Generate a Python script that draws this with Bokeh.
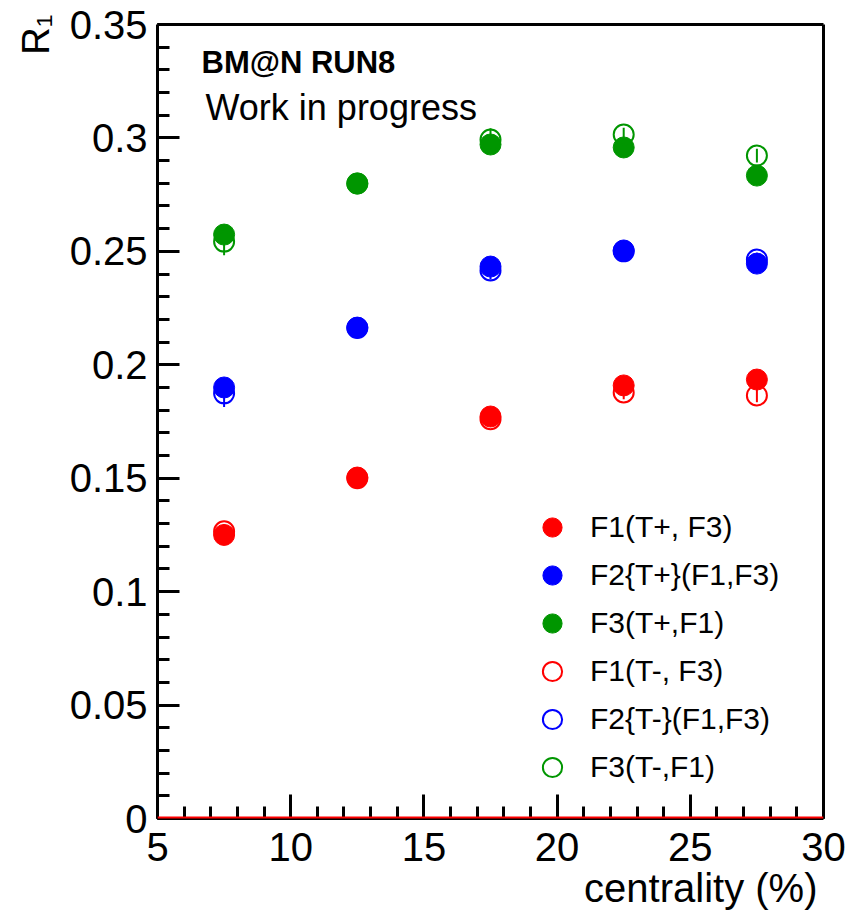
from bokeh.plotting import figure
from bokeh.models import (Label, Legend, LegendItem, FixedTicker, Title,
                          CustomJSTickFormatter, Span, LinearAxis)
from bokeh.embed import file_html
from bokeh.resources import INLINE

# ---- data ----
centrality = [7.5, 12.5, 17.5, 22.5, 27.5]

f1_tplus = [0.1250, 0.1503, 0.1772, 0.1909, 0.1935]
f2_tplus = [0.1900, 0.2164, 0.2433, 0.2504, 0.2446]
f3_tplus = [0.2574, 0.2799, 0.2971, 0.2958, 0.2834]

f1_tminus = [0.1266, 0.1500, 0.1760, 0.1878, 0.1865]
f2_tminus = [0.1874, 0.2162, 0.2416, 0.2500, 0.2464]
f3_tminus = [0.2543, 0.2799, 0.2993, 0.3015, 0.2922]

err_tminus_f1 = [0.003, 0.002, 0.003, 0.003, 0.003]
err_tminus_f2 = [0.006, 0.002, 0.004, 0.003, 0.003]
err_tminus_f3 = [0.006, 0.002, 0.005, 0.003, 0.003]

labels_plus = ["F1(T+, F3)", "F2{T+}(F1,F3)", "F3(T+,F1)"]
labels_minus = ["F1(T-, F3)", "F2{T-}(F1,F3)", "F3(T-,F1)"]
colors = ["#ff0000", "#0000ff", "#009600"]

x_major = [5, 10, 15, 20, 25, 30]
x_minor = list(range(5, 31))
y_major = [0, 0.05, 0.1, 0.15, 0.2, 0.25, 0.3, 0.35]
y_minor = [round(0.01 * i, 2) for i in range(0, 36)]

x_range = (5, 30)
y_range = (0, 0.35)

FONT = "Liberation Sans"

p = figure(width=852, height=915, x_range=x_range, y_range=y_range,
           output_backend="svg", toolbar_location=None,
           min_border_left=157, min_border_right=29,
           min_border_top=24, min_border_bottom=97)

p.xgrid.visible = False
p.ygrid.visible = False
p.outline_line_color = None
p.background_fill_color = "white"
p.border_fill_color = "white"

for ax in (p.xaxis[0], p.yaxis[0]):
    ax.axis_line_width = 3
    ax.axis_line_color = "black"
    ax.major_tick_line_width = 3
    ax.minor_tick_line_width = 3
    ax.major_tick_out = 0
    ax.minor_tick_out = 0
    ax.major_label_text_font = FONT
    ax.major_label_text_font_size = "40px"
    ax.major_label_text_color = "black"

p.xaxis[0].ticker = FixedTicker(ticks=x_major, minor_ticks=x_minor)
p.yaxis[0].ticker = FixedTicker(ticks=y_major, minor_ticks=y_minor)
p.xaxis[0].major_tick_in = 24
p.xaxis[0].minor_tick_in = 12
p.yaxis[0].major_tick_in = 22
p.yaxis[0].minor_tick_in = 12
p.xaxis[0].major_label_standoff = 14
p.yaxis[0].major_label_standoff = 10
p.yaxis[0].formatter = CustomJSTickFormatter(code="""
    let s = tick.toFixed(2);
    s = s.replace(/0+$/, '').replace(/\\.$/, '');
    return s;
""")

# plain frame edges on top and right
for side in ("above", "right"):
    fa = LinearAxis(ticker=FixedTicker(ticks=[], minor_ticks=[]),
                    axis_line_width=3, axis_line_color="black",
                    major_tick_in=0, major_tick_out=0,
                    minor_tick_in=0, minor_tick_out=0,
                    major_label_text_font_size="0px")
    p.add_layout(fa, side)

# zero line (empty histogram baseline drawn in red)
p.add_layout(Span(location=0, dimension="width", line_color="#ff0000",
                  line_width=4, level="overlay"))

filled = [f1_tplus, f2_tplus, f3_tplus]
opened = [f1_tminus, f2_tminus, f3_tminus]
errs = [err_tminus_f1, err_tminus_f2, err_tminus_f3]

items_plus = []
items_minus = []

for vals, err, col in zip(opened, errs, colors):
    lo = [v - e for v, e in zip(vals, err)]
    hi = [v + e for v, e in zip(vals, err)]
    p.segment(x0=centrality, y0=lo, x1=centrality, y1=hi, line_color=col, line_width=2)

for vals, col, lab in zip(filled, colors, labels_plus):
    r = p.scatter(x=centrality, y=vals, size=21, marker="circle",
                  fill_color=col, line_color=col, line_width=1)
    items_plus.append(LegendItem(label=lab, renderers=[r]))

for vals, col, lab in zip(opened, colors, labels_minus):
    r = p.scatter(x=centrality, y=vals, size=20, marker="circle",
                  fill_color=None, line_color=col, line_width=2)
    items_minus.append(LegendItem(label=lab, renderers=[r]))

legend = Legend(items=items_plus + items_minus, location=(371, 27),
                padding=0, margin=0, border_line_alpha=0,
                background_fill_alpha=0,
                label_text_font=FONT, label_text_font_size="30px",
                label_text_color="black",
                glyph_width=48, glyph_height=48, label_height=40,
                spacing=0, label_standoff=14)
p.add_layout(legend)

# texts inside the frame
p.add_layout(Label(x=x_range[0], y=y_range[1], x_offset=44, y_offset=-38,
                   text="BM@N RUN8", text_font=FONT, text_font_size="31px",
                   text_font_style="bold", text_baseline="alphabetic",
                   text_color="black"))
p.add_layout(Label(x=x_range[0], y=y_range[1], x_offset=48, y_offset=-83,
                   text="Work in progress", text_font=FONT, text_font_size="36px",
                   text_baseline="alphabetic", text_color="black"))

# axis titles as side titles (not clipped by the frame)
p.add_layout(Title(text="centrality (%)", align="right", offset=6, standoff=0,
                   text_font=FONT, text_font_size="40px",
                   text_font_style="normal", text_color="black"), "below")
p.add_layout(Title(text="R\u2081", align="right", offset=-10, standoff=20,
                   text_font=FONT, text_font_size="38px",
                   text_font_style="normal", text_color="black"), "left")

open("out.html", "w").write(file_html(p, INLINE))
